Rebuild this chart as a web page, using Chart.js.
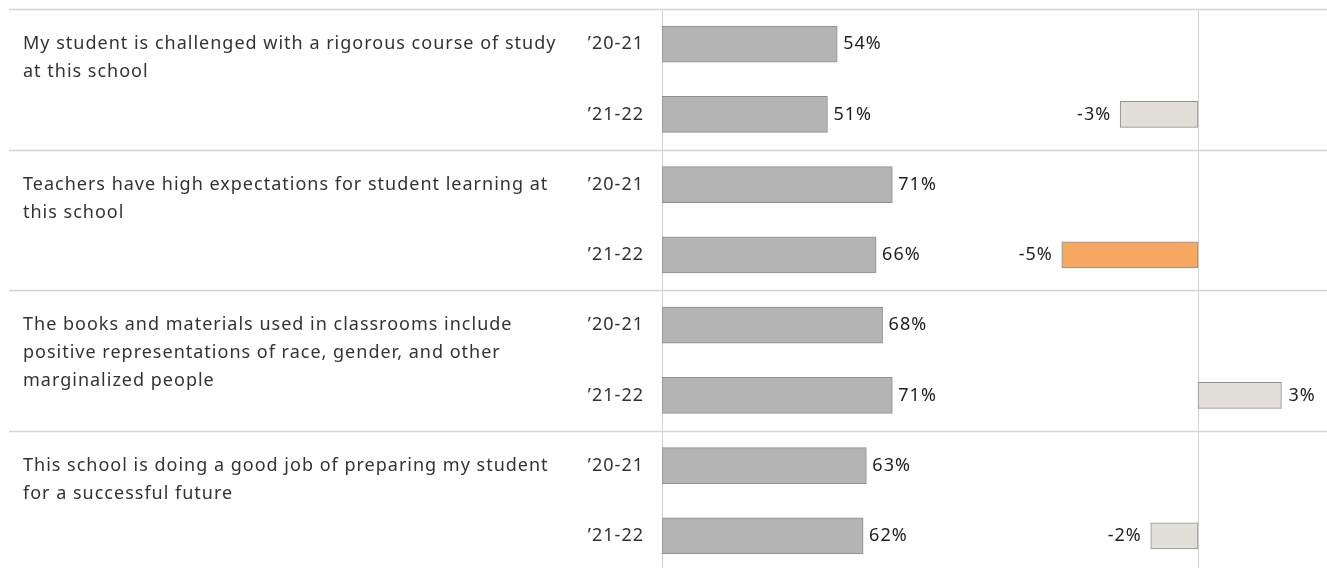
<!DOCTYPE html>
<html>
<head>
<meta charset="utf-8">
<script src="https://cdn.jsdelivr.net/npm/chart.js@4"></script>
<style>
  html, body { margin: 0; padding: 0; background: #fff; overflow: hidden; }
  #wrap { width: 1327px; height: 571px; position: relative; }
</style>
</head>
<body>
<div id="wrap"><canvas id="surveyChart"></canvas></div>
<script>
const questions = [
  ["My student is challenged with a rigorous course of study", "at this school"],
  ["Teachers have high expectations for student learning at", "this school"],
  ["The books and materials used in classrooms include", "positive representations of race, gender, and other", "marginalized people"],
  ["This school is doing a good job of preparing my student", "for a successful future"]
];
const years = ["\u201920-21", "\u201921-22"];
const agree2021 = [54, 71, 68, 63];
const agree2122 = [51, 66, 71, 62];
const change = [-2.8, -4.9, 3.0, -1.7];

const BAR_FILL = '#b4b4b4';
const BAR_EDGE = '#8e8e8e';
const DIFF_FILL = '#e1dfd8';
const DIFF_DROP = '#f7a964';
const LINE_COLOR = '#d4d4d4';
const TEXT_FONT = '"Noto Sans", "Open Sans", sans-serif';

// one row per question and year
var rowLabels = [];
var mainValues = [];
var diffValues = [];
var diffColors = [];
for (var i = 0; i < questions.length; i++) {
  rowLabels.push(years[0], years[1]);
  mainValues.push(agree2021[i], agree2122[i]);
  diffValues.push(null, change[i]);
  var drop = Math.round(change[i]) <= -5;
  diffColors.push(DIFF_FILL, drop ? DIFF_DROP : DIFF_FILL);
}

function pct(v) {
  return Math.round(v) + '%';
}

function setFont(ctx, size) {
  ctx.font = size + 'px ' + TEXT_FONT;
  if ('letterSpacing' in ctx) ctx.letterSpacing = '1px';
}

const panelPlugin = {
  id: 'panelPlugin',
  beforeDatasetsDraw(chart) {
    const ctx = chart.ctx;
    const area = chart.chartArea;
    const y = chart.scales.y;
    const rowH = (y.getPixelForValue(1) - y.getPixelForValue(0));
    ctx.save();
    ctx.strokeStyle = LINE_COLOR;
    ctx.lineWidth = 1.5;
    for (var b = 0; b < questions.length; b++) {
      const top = Math.round(y.getPixelForValue(b * 2) - rowH / 2) + 0.5;
      ctx.beginPath();
      ctx.moveTo(9, top);
      ctx.lineTo(chart.width, top);
      ctx.stroke();
    }
    ctx.lineWidth = 1;
    [chart.scales.x.getPixelForValue(0), chart.scales.x2.getPixelForValue(0)].forEach(function(px) {
      px = Math.round(px) + 0.5;
      ctx.beginPath();
      ctx.moveTo(px, area.top);
      ctx.lineTo(px, chart.height);
      ctx.stroke();
    });
    // question text and year labels
    ctx.fillStyle = '#333';
    setFont(ctx, 18);
    ctx.textBaseline = 'middle';
    for (var q = 0; q < questions.length; q++) {
      const y0 = y.getPixelForValue(q * 2);
      ctx.textAlign = 'left';
      questions[q].forEach(function(line, k) {
        ctx.fillText(line, 23, y0 + k * 28);
      });
    }
    ctx.textAlign = 'right';
    rowLabels.forEach(function(lbl, r) {
      ctx.fillText(lbl, 644, y.getPixelForValue(r));
    });
    ctx.restore();
  },
  afterDatasetsDraw(chart) {
    const ctx = chart.ctx;
    ctx.save();
    ctx.fillStyle = '#1e1e1e';
    setFont(ctx, 18);
    ctx.textBaseline = 'middle';
    chart.getDatasetMeta(0).data.forEach(function(bar, i) {
      ctx.textAlign = 'left';
      ctx.fillText(pct(mainValues[i]), bar.x + 6, bar.y);
    });
    chart.getDatasetMeta(1).data.forEach(function(bar, i) {
      const v = diffValues[i];
      if (v === null) return;
      if (v < 0) {
        ctx.textAlign = 'right';
        ctx.fillText(pct(v), bar.x - 9, bar.y);
      } else {
        ctx.textAlign = 'left';
        ctx.fillText(pct(v), bar.x + 7, bar.y);
      }
    });
    ctx.restore();
  }
};

const config = {
  type: 'bar',
  data: {
    labels: rowLabels,
    datasets: [
      {
        data: mainValues,
        xAxisID: 'x',
        backgroundColor: BAR_FILL,
        borderColor: BAR_EDGE,
        borderWidth: 1,
        borderSkipped: false,
        barThickness: 36,
        grouped: false
      },
      {
        data: diffValues,
        xAxisID: 'x2',
        backgroundColor: diffColors,
        borderColor: BAR_EDGE,
        borderWidth: 1,
        borderSkipped: false,
        barThickness: 26,
        grouped: false
      }
    ]
  },
  options: {
    indexAxis: 'y',
    responsive: true,
    maintainAspectRatio: false,
    animation: false,
    layout: { padding: { top: 9, right: 0, bottom: 0, left: 662 } },
    plugins: {
      legend: { display: false },
      tooltip: { enabled: false },
      title: { display: false }
    },
    scales: {
      x: { type: 'linear', display: false, min: 0, max: 205 },
      x2: { type: 'linear', display: false, min: -19.28, max: 4.64 },
      y: { type: 'category', display: false, offset: true }
    }
  },
  plugins: [panelPlugin]
};

var ctx1 = document.getElementById('surveyChart');
chart1 = new Chart(ctx1, config);
</script>
</body>
</html>
